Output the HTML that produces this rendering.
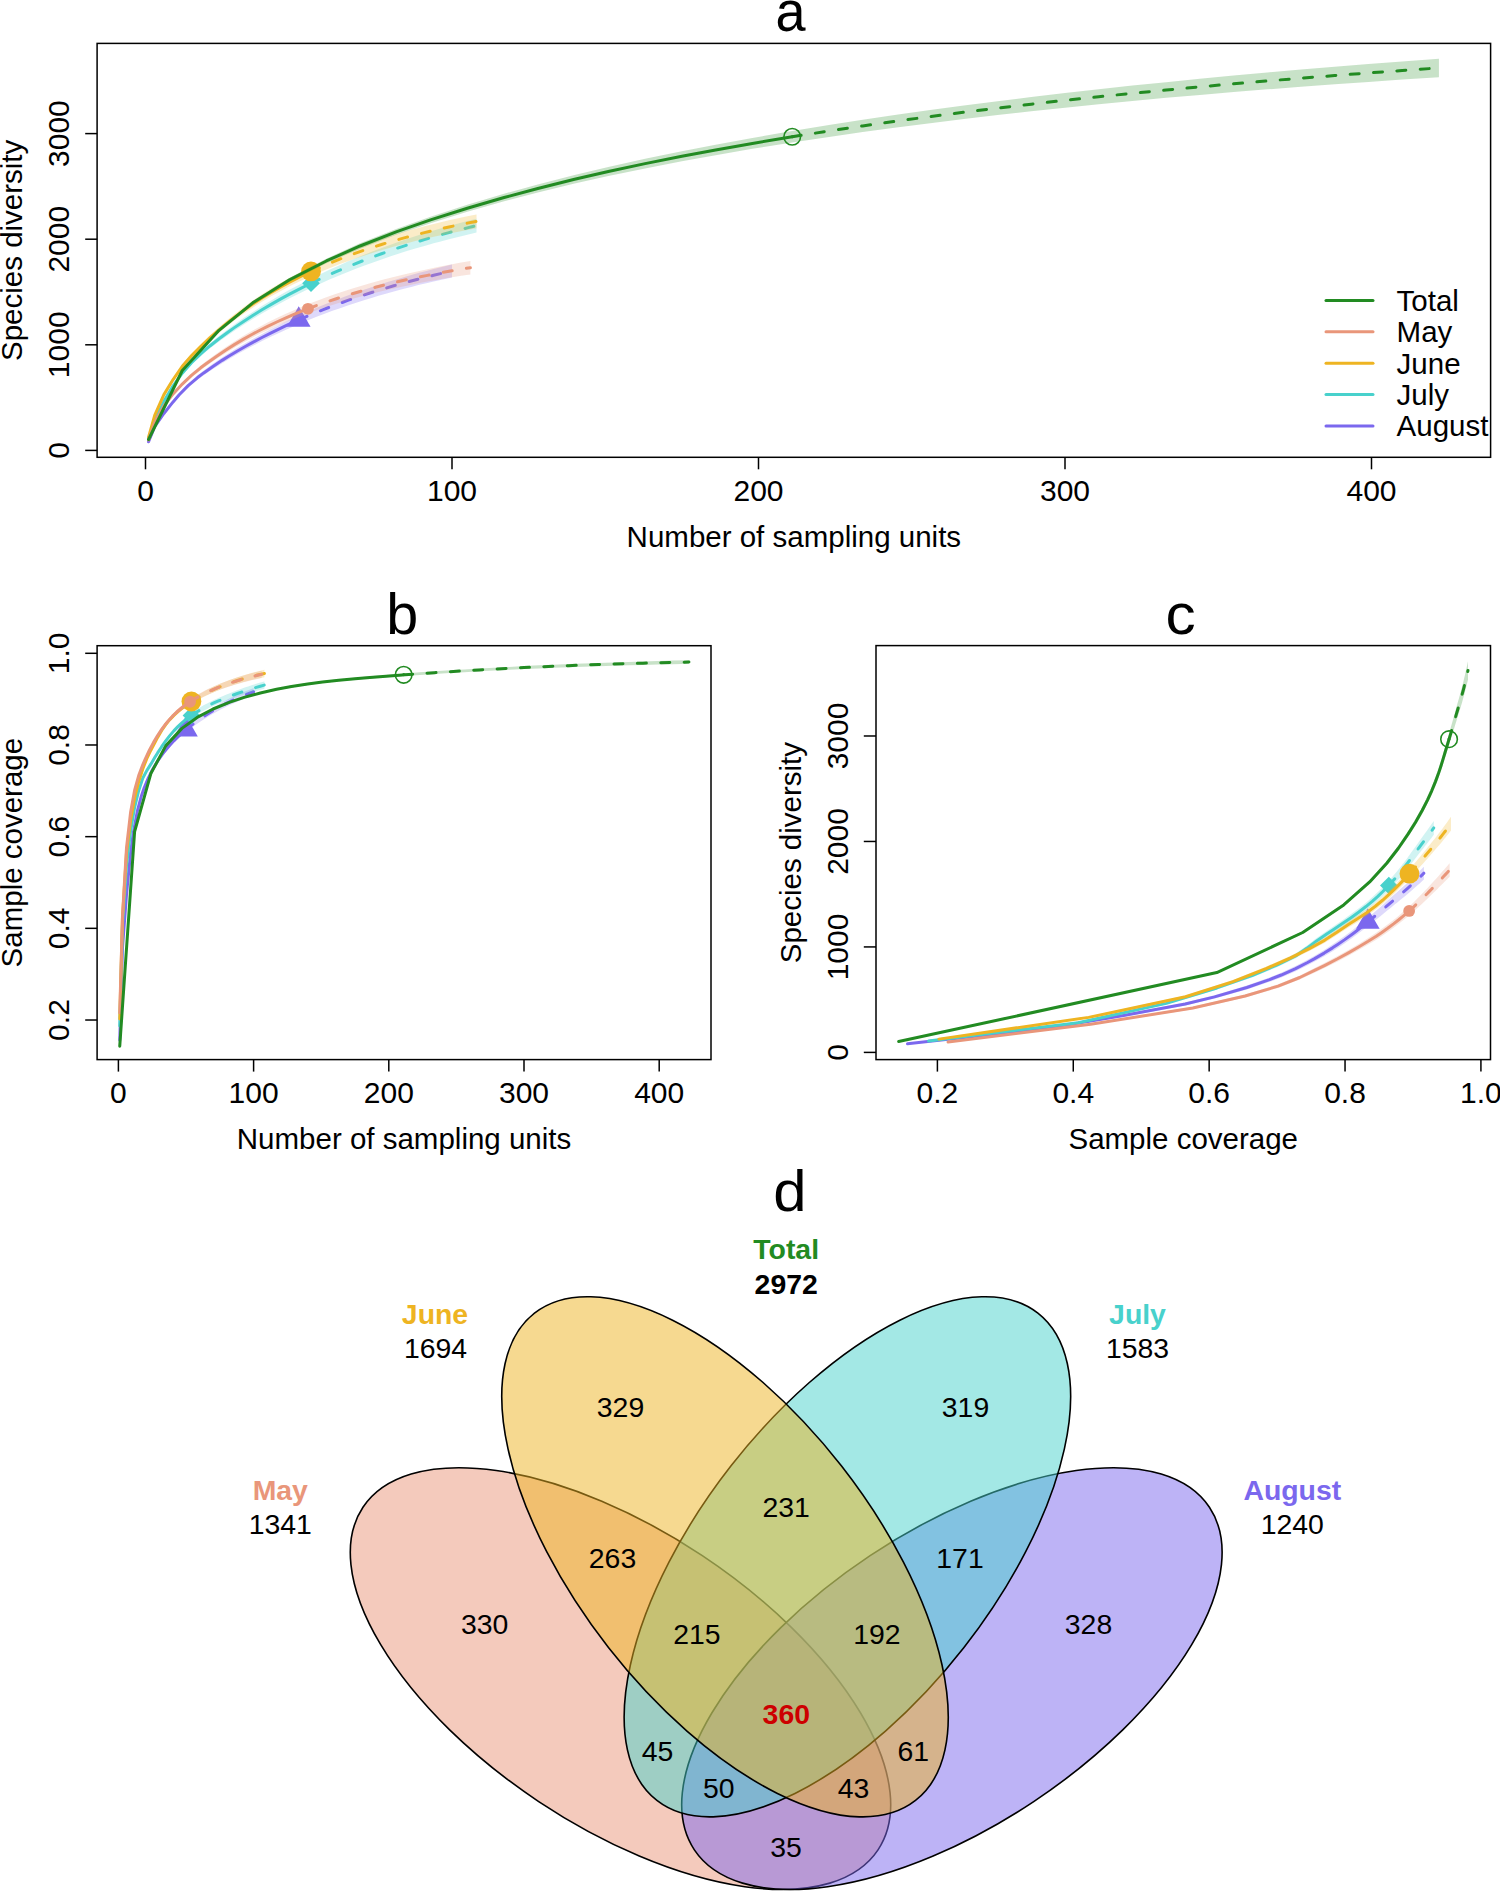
<!DOCTYPE html>
<html><head><meta charset="utf-8"><title>Figure</title>
<style>html,body{margin:0;padding:0;background:#fff;}svg{display:block;}text{font-family:"Liberation Sans", sans-serif;}</style>
</head><body>
<svg width="1500" height="1891" viewBox="0 0 1500 1891">
<rect x="0" y="0" width="1500" height="1891" fill="#fff"/>
<g id="pa">
<clipPath id="clipa"><rect x="97.10" y="43.40" width="1393.50" height="413.90"/></clipPath>
<g clip-path="url(#clipa)">
<polygon points="148.56,442.15 154.69,427.51 163.89,414.69 173.09,403.44 179.22,396.52 188.41,387.39 197.60,379.77 203.74,375.29 212.93,369.06 222.12,363.18 228.25,359.44 237.45,354.10 246.64,349.04 252.77,345.80 261.97,341.10 271.16,336.58 277.29,333.67 286.49,329.44 295.69,325.39 298.75,324.08 301.81,322.79 307.94,320.26 317.14,316.59 323.27,314.24 332.47,310.83 338.60,308.64 347.79,305.47 356.99,302.44 363.12,300.48 372.31,297.65 378.44,295.83 387.63,293.19 393.76,291.49 402.96,289.02 412.15,286.65 418.28,285.12 427.48,282.91 433.61,281.48 442.81,279.40 452.00,277.40 452.00,264.52 442.81,266.75 433.61,269.06 427.48,270.65 418.28,273.11 412.15,274.80 402.96,277.42 393.76,280.13 387.63,282.00 378.44,284.90 372.31,286.90 363.12,289.99 356.99,292.12 347.79,295.43 338.60,298.88 332.47,301.26 323.27,304.95 317.14,307.50 307.94,311.45 301.81,314.19 298.75,315.58 295.69,316.99 286.49,321.36 277.29,325.90 271.16,329.04 261.97,333.89 252.77,338.93 246.64,342.41 237.45,347.84 228.25,353.57 222.12,357.57 212.93,363.86 203.74,370.54 197.60,375.32 188.41,383.43 179.22,393.09 173.09,400.40 163.89,412.30 154.69,425.94 148.56,441.33" fill="#7B68EE" fill-opacity="0.25"/>
<polyline points="148.56,441.74 154.69,426.72 163.89,413.49 173.09,401.92 179.22,394.81 188.41,385.41 197.60,377.55 203.74,372.92 212.93,366.46 222.12,360.37 228.25,356.50 237.45,350.97 246.64,345.73 252.77,342.37 261.97,337.49 271.16,332.81 277.29,329.79 286.49,325.40 295.69,321.19 298.75,319.83" fill="none" stroke="#7B68EE" stroke-width="3" stroke-linejoin="round" stroke-linecap="round"/>
<polyline points="298.75,319.83 301.81,318.49 307.94,315.86 317.14,312.05 323.27,309.59 332.47,306.05 338.60,303.76 347.79,300.45 356.99,297.28 363.12,295.24 372.31,292.27 378.44,290.36 387.63,287.60 393.76,285.81 402.96,283.22 412.15,280.73 418.28,279.12 427.48,276.78 433.61,275.27 442.81,273.07 452.00,270.96" fill="none" stroke="#7B68EE" stroke-width="3" stroke-linejoin="round" stroke-linecap="round" stroke-dasharray="9 14.4"/>
<polygon points="298.75,306.23 310.55,326.63 286.95,326.63" fill="#7B68EE"/>
<polygon points="148.56,439.52 154.69,421.45 163.89,402.56 173.09,387.44 182.28,375.05 191.47,364.83 200.67,356.19 209.87,348.59 219.06,341.58 228.25,334.98 234.38,330.78 243.58,324.77 252.77,319.04 261.97,313.54 271.16,308.25 280.36,303.18 289.56,298.34 298.75,293.70 307.94,289.27 311.01,287.84 314.07,286.42 320.20,283.65 329.40,279.61 338.60,275.73 347.79,271.99 353.92,269.57 363.12,266.05 372.31,262.66 381.50,259.41 390.70,256.28 396.83,254.27 406.02,251.36 415.22,248.57 424.42,245.89 433.61,243.32 439.74,241.67 448.94,239.26 458.13,236.95 467.32,234.72 476.52,232.58 476.52,218.64 467.32,221.02 458.13,223.48 448.94,226.03 439.74,228.68 433.61,230.50 424.42,233.31 415.22,236.24 406.02,239.29 396.83,242.46 390.70,244.64 381.50,248.03 372.31,251.55 363.12,255.21 353.92,259.01 347.79,261.62 338.60,265.65 329.40,269.82 320.20,274.15 314.07,277.12 311.01,278.64 307.94,280.18 298.75,284.92 289.56,289.87 280.36,295.05 271.16,300.46 261.97,306.09 252.77,311.95 243.58,318.05 234.38,324.45 228.25,328.91 219.06,335.93 209.87,343.37 200.67,351.43 191.47,360.56 182.28,371.32 173.09,384.30 163.89,400.10 154.69,419.82 148.56,438.68" fill="#48D1CC" fill-opacity="0.25"/>
<polyline points="148.56,439.10 154.69,420.63 163.89,401.33 173.09,385.87 182.28,373.18 191.47,362.69 200.67,353.81 209.87,345.98 219.06,338.75 228.25,331.94 234.38,327.61 243.58,321.41 252.77,315.49 261.97,309.82 271.16,304.35 280.36,299.12 289.56,294.10 298.75,289.31 307.94,284.73 311.01,283.24" fill="none" stroke="#48D1CC" stroke-width="3" stroke-linejoin="round" stroke-linecap="round"/>
<polyline points="311.01,283.24 314.07,281.77 320.20,278.90 329.40,274.72 338.60,270.69 347.79,266.80 353.92,264.29 363.12,260.63 372.31,257.11 381.50,253.72 390.70,250.46 396.83,248.36 406.02,245.32 415.22,242.40 424.42,239.60 433.61,236.91 439.74,235.17 448.94,232.65 458.13,230.22 467.32,227.87 476.52,225.61" fill="none" stroke="#48D1CC" stroke-width="3" stroke-linejoin="round" stroke-linecap="round" stroke-dasharray="9 14.4"/>
<polygon points="302.21,283.24 311.01,274.44 319.81,283.24 311.01,292.04" fill="#48D1CC"/>
<polygon points="148.56,437.51 154.69,416.15 163.89,395.86 173.09,381.15 182.28,368.15 191.47,357.86 200.67,348.96 209.87,340.56 219.06,332.64 228.25,325.22 234.38,320.53 243.58,313.87 252.77,307.64 261.97,301.81 271.16,296.36 280.36,291.22 289.56,286.37 298.75,281.78 307.94,277.45 311.01,276.06 314.07,274.69 320.20,272.03 329.40,268.22 338.60,264.62 347.79,261.20 353.92,259.03 363.12,255.92 372.31,252.97 381.50,250.18 390.70,247.53 396.83,245.84 406.02,243.42 415.22,241.12 424.42,238.93 433.61,236.84 439.74,235.51 448.94,233.58 458.13,231.75 467.32,230.00 476.52,228.33 476.52,214.39 467.32,216.29 458.13,218.28 448.94,220.35 439.74,222.52 433.61,224.02 424.42,226.35 415.22,228.79 406.02,231.35 396.83,234.03 390.70,235.89 381.50,238.80 372.31,241.86 363.12,245.08 353.92,248.47 347.79,250.83 338.60,254.53 329.40,258.43 320.20,262.53 314.07,265.39 311.01,266.86 307.94,268.36 298.75,273.00 289.56,277.91 280.36,283.09 271.16,288.56 261.97,294.37 252.77,300.55 243.58,307.15 234.38,314.20 228.25,319.15 219.06,326.99 209.87,335.34 200.67,344.20 191.47,353.60 182.28,364.42 173.09,378.02 163.89,393.40 154.69,414.52 148.56,436.67" fill="#EEB422" fill-opacity="0.25"/>
<polyline points="148.56,437.09 154.69,415.33 163.89,394.63 173.09,379.58 182.28,366.28 191.47,355.73 200.67,346.58 209.87,337.95 219.06,329.81 228.25,322.18 234.38,317.36 243.58,310.51 252.77,304.09 261.97,298.09 271.16,292.46 280.36,287.15 289.56,282.14 298.75,277.39 307.94,272.90 311.01,271.46" fill="none" stroke="#EEB422" stroke-width="3" stroke-linejoin="round" stroke-linecap="round"/>
<polyline points="311.01,271.46 314.07,270.04 320.20,267.28 329.40,263.32 338.60,259.57 347.79,256.02 353.92,253.75 363.12,250.50 372.31,247.41 381.50,244.49 390.70,241.71 396.83,239.94 406.02,237.38 415.22,234.95 424.42,232.64 433.61,230.43 439.74,229.01 448.94,226.97 458.13,225.02 467.32,223.15 476.52,221.36" fill="none" stroke="#EEB422" stroke-width="3" stroke-linejoin="round" stroke-linecap="round" stroke-dasharray="9 14.4"/>
<circle cx="311.01" cy="271.46" r="9.9" fill="#EEB422"/>
<polygon points="148.56,440.36 154.69,423.08 163.89,407.13 173.09,395.44 182.28,385.88 191.47,377.49 200.67,370.15 206.80,365.68 216.00,359.36 225.19,353.38 234.38,347.74 243.58,342.45 252.77,337.50 258.90,334.37 268.10,329.89 277.29,325.66 286.49,321.67 295.69,317.92 304.88,314.38 307.94,313.24 311.01,312.13 317.14,309.96 326.34,306.86 335.53,303.91 341.66,302.03 350.86,299.32 360.05,296.76 369.25,294.32 375.38,292.77 384.57,290.54 393.76,288.43 402.96,286.43 409.09,285.15 418.28,283.31 427.48,281.56 436.68,279.90 442.81,278.83 452.00,277.29 461.19,275.82 470.39,274.41 470.39,260.89 461.19,262.53 452.00,264.24 442.81,266.02 436.68,267.24 427.48,269.15 418.28,271.14 409.09,273.23 402.96,274.67 393.76,276.93 384.57,279.30 375.38,281.79 369.25,283.52 360.05,286.22 350.86,289.06 341.66,292.04 335.53,294.11 326.34,297.34 317.14,300.75 311.01,303.11 307.94,304.33 304.88,305.56 295.69,309.41 286.49,313.48 277.29,317.79 268.10,322.35 258.90,327.18 252.77,330.55 243.58,335.86 234.38,341.53 225.19,347.56 216.00,353.96 206.80,360.71 200.67,365.48 191.47,373.31 182.28,382.22 173.09,392.36 163.89,404.72 154.69,421.49 148.56,439.53" fill="#E9967A" fill-opacity="0.25"/>
<polyline points="148.56,439.95 154.69,422.29 163.89,405.93 173.09,393.90 182.28,384.05 191.47,375.40 200.67,367.82 206.80,363.19 216.00,356.66 225.19,350.47 234.38,344.63 243.58,339.16 252.77,334.03 258.90,330.77 268.10,326.12 277.29,321.73 286.49,317.58 295.69,313.67 304.88,309.97 307.94,308.78" fill="none" stroke="#E9967A" stroke-width="3" stroke-linejoin="round" stroke-linecap="round"/>
<polyline points="307.94,308.78 311.01,307.62 317.14,305.35 326.34,302.10 335.53,299.01 341.66,297.03 350.86,294.19 360.05,291.49 369.25,288.92 375.38,287.28 384.57,284.92 393.76,282.68 402.96,280.55 409.09,279.19 418.28,277.23 427.48,275.36 436.68,273.57 442.81,272.42 452.00,270.77 461.19,269.18 470.39,267.65" fill="none" stroke="#E9967A" stroke-width="3" stroke-linejoin="round" stroke-linecap="round" stroke-dasharray="9 14.4"/>
<circle cx="307.94" cy="308.78" r="5.9" fill="#E9967A"/>
<polygon points="148.56,439.66 182.28,371.27 219.06,331.60 252.77,304.42 289.56,281.78 326.34,263.33 360.05,248.63 396.83,234.58 430.55,223.14 467.32,211.76 504.11,201.31 537.82,192.47 574.60,183.57 608.32,176.03 645.10,168.39 681.88,161.27 715.59,155.15 752.37,148.87 789.15,142.95 792.22,142.47 795.28,142.00 829.00,136.92 862.71,132.09 896.42,127.50 930.14,123.14 963.86,118.99 997.57,115.03 1031.28,111.27 1065.00,107.68 1098.72,104.25 1132.43,100.99 1166.14,97.87 1199.86,94.90 1233.58,92.06 1267.29,89.35 1301.00,86.75 1334.72,84.27 1368.43,81.89 1402.15,79.61 1438.93,77.23 1438.93,58.65 1402.15,61.40 1368.43,64.02 1334.72,66.75 1301.00,69.58 1267.29,72.53 1233.58,75.60 1199.86,78.79 1166.14,82.13 1132.43,85.61 1098.72,89.24 1065.00,93.04 1031.28,97.01 997.57,101.16 963.86,105.50 930.14,110.04 896.42,114.80 862.71,119.79 829.00,125.02 795.28,130.52 792.22,131.03 789.15,131.55 752.37,137.92 715.59,144.68 681.88,151.24 645.10,158.84 608.32,166.98 574.60,174.99 537.82,184.41 504.11,193.74 467.32,204.74 430.55,216.69 396.83,228.67 360.05,243.35 326.34,258.64 289.56,277.78 252.77,301.16 219.06,329.10 182.28,369.73 148.56,439.39" fill="#228B22" fill-opacity="0.25"/>
<polyline points="148.56,439.52 182.28,370.50 219.06,330.35 252.77,302.79 289.56,279.78 326.34,260.98 360.05,245.99 396.83,231.63 430.55,219.91 467.32,208.25 504.11,197.52 537.82,188.44 574.60,179.28 608.32,171.51 645.10,163.62 681.88,156.25 715.59,149.92 752.37,143.40 789.15,137.25 792.22,136.75" fill="none" stroke="#228B22" stroke-width="3" stroke-linejoin="round" stroke-linecap="round"/>
<polyline points="792.22,136.75 795.28,136.26 829.00,130.97 862.71,125.94 896.42,121.15 930.14,116.59 963.86,112.24 997.57,108.10 1031.28,104.14 1065.00,100.36 1098.72,96.75 1132.43,93.30 1166.14,90.00 1199.86,86.85 1233.58,83.83 1267.29,80.94 1301.00,78.17 1334.72,75.51 1368.43,72.96 1402.15,70.51 1438.93,67.94" fill="none" stroke="#228B22" stroke-width="3" stroke-linejoin="round" stroke-linecap="round" stroke-dasharray="9 14.4"/>
<circle cx="792.22" cy="136.75" r="8.3" fill="none" stroke="#228B22" stroke-width="1.6"/>
</g>
<rect x="97.10" y="43.40" width="1393.50" height="413.90" fill="none" stroke="#000" stroke-width="1.5"/>
<line x1="85.2" y1="450.40" x2="97.10" y2="450.40" stroke="#000" stroke-width="1.5"/>
<text x="69.30" y="450.40" font-size="30" text-anchor="middle" font-weight="normal" fill="#000" transform="rotate(-90 69.30 450.40)">0</text>
<line x1="85.2" y1="344.80" x2="97.10" y2="344.80" stroke="#000" stroke-width="1.5"/>
<text x="69.30" y="344.80" font-size="30" text-anchor="middle" font-weight="normal" fill="#000" transform="rotate(-90 69.30 344.80)">1000</text>
<line x1="85.2" y1="239.20" x2="97.10" y2="239.20" stroke="#000" stroke-width="1.5"/>
<text x="69.30" y="239.20" font-size="30" text-anchor="middle" font-weight="normal" fill="#000" transform="rotate(-90 69.30 239.20)">2000</text>
<line x1="85.2" y1="133.60" x2="97.10" y2="133.60" stroke="#000" stroke-width="1.5"/>
<text x="69.30" y="133.60" font-size="30" text-anchor="middle" font-weight="normal" fill="#000" transform="rotate(-90 69.30 133.60)">3000</text>
<line x1="145.50" y1="457.30" x2="145.50" y2="469.3" stroke="#000" stroke-width="1.5"/>
<text x="145.50" y="500.80" font-size="30" text-anchor="middle" font-weight="normal" fill="#000">0</text>
<line x1="452.00" y1="457.30" x2="452.00" y2="469.3" stroke="#000" stroke-width="1.5"/>
<text x="452.00" y="500.80" font-size="30" text-anchor="middle" font-weight="normal" fill="#000">100</text>
<line x1="758.50" y1="457.30" x2="758.50" y2="469.3" stroke="#000" stroke-width="1.5"/>
<text x="758.50" y="500.80" font-size="30" text-anchor="middle" font-weight="normal" fill="#000">200</text>
<line x1="1065.00" y1="457.30" x2="1065.00" y2="469.3" stroke="#000" stroke-width="1.5"/>
<text x="1065.00" y="500.80" font-size="30" text-anchor="middle" font-weight="normal" fill="#000">300</text>
<line x1="1371.50" y1="457.30" x2="1371.50" y2="469.3" stroke="#000" stroke-width="1.5"/>
<text x="1371.50" y="500.80" font-size="30" text-anchor="middle" font-weight="normal" fill="#000">400</text>
<text x="793.85" y="547.30" font-size="29.5" text-anchor="middle" font-weight="normal" fill="#000">Number of sampling units</text>
<text x="22.20" y="250.35" font-size="29.5" text-anchor="middle" font-weight="normal" fill="#000" transform="rotate(-90 22.20 250.35)">Species diversity</text>
<text x="0.00" y="0.00" font-size="57.5" text-anchor="middle" font-weight="normal" fill="#000" transform="translate(790.60 30.60) scale(0.940 1)">a</text>
<line x1="1326" y1="300.40" x2="1373" y2="300.40" stroke="#228B22" stroke-width="3" stroke-linecap="round"/>
<text x="1396.60" y="310.80" font-size="29.5" text-anchor="start" font-weight="normal" fill="#000">Total</text>
<line x1="1326" y1="331.80" x2="1373" y2="331.80" stroke="#E9967A" stroke-width="3" stroke-linecap="round"/>
<text x="1396.60" y="342.20" font-size="29.5" text-anchor="start" font-weight="normal" fill="#000">May</text>
<line x1="1326" y1="363.20" x2="1373" y2="363.20" stroke="#EEB422" stroke-width="3" stroke-linecap="round"/>
<text x="1396.60" y="373.60" font-size="29.5" text-anchor="start" font-weight="normal" fill="#000">June</text>
<line x1="1326" y1="394.60" x2="1373" y2="394.60" stroke="#48D1CC" stroke-width="3" stroke-linecap="round"/>
<text x="1396.60" y="405.00" font-size="29.5" text-anchor="start" font-weight="normal" fill="#000">July</text>
<line x1="1326" y1="426.00" x2="1373" y2="426.00" stroke="#7B68EE" stroke-width="3" stroke-linecap="round"/>
<text x="1396.60" y="436.40" font-size="29.5" text-anchor="start" font-weight="normal" fill="#000">August</text>
</g>
<g id="pb">
<clipPath id="clipb"><rect x="97.10" y="645.70" width="613.90" height="413.90"/></clipPath>
<g clip-path="url(#clipb)">
<polygon points="119.75,1040.42 122.46,948.52 126.51,895.12 130.57,853.67 133.27,833.98 137.33,812.36 141.38,797.19 144.09,789.38 148.14,779.81 152.20,771.84 154.90,767.13 158.96,760.83 163.02,755.28 165.72,751.91 169.78,747.24 173.83,742.97 176.54,740.32 180.59,736.60 184.65,733.14 186.00,732.04 187.35,730.96 190.06,728.87 194.11,725.89 196.82,723.98 200.87,721.24 203.58,719.48 207.63,716.93 211.69,714.49 214.39,712.91 218.45,710.65 221.15,709.20 225.21,707.13 227.91,705.81 231.97,703.92 236.02,702.14 238.73,701.00 242.78,699.38 245.49,698.34 249.54,696.85 253.60,695.44 253.60,688.10 249.54,689.65 245.49,691.27 242.78,692.40 238.73,694.16 236.02,695.39 231.97,697.31 227.91,699.34 225.21,700.76 221.15,702.98 218.45,704.53 214.39,706.94 211.69,708.61 207.63,711.21 203.58,713.92 200.87,715.79 196.82,718.69 194.11,720.71 190.06,723.86 187.35,726.06 186.00,727.20 184.65,728.36 180.59,732.00 176.54,735.90 173.83,738.68 169.78,743.14 165.72,748.00 163.02,751.51 158.96,757.27 154.90,763.79 152.20,768.65 148.14,776.85 144.09,786.67 141.38,794.66 137.33,810.10 133.27,832.03 130.57,851.94 126.51,893.76 122.46,947.62 119.75,1039.96" fill="#7B68EE" fill-opacity="0.25"/>
<polyline points="119.75,1040.19 122.46,948.07 126.51,894.44 130.57,852.80 133.27,833.00 137.33,811.23 141.38,795.92 144.09,788.02 148.14,778.33 152.20,770.25 154.90,765.46 158.96,759.05 163.02,753.40 165.72,749.96 169.78,745.19 173.83,740.83 176.54,738.11 180.59,734.30 184.65,730.75 186.00,729.62" fill="none" stroke="#7B68EE" stroke-width="3" stroke-linejoin="round" stroke-linecap="round"/>
<polyline points="186.00,729.62 187.35,728.51 190.06,726.37 194.11,723.30 196.82,721.34 200.87,718.51 203.58,716.70 207.63,714.07 211.69,711.55 214.39,709.93 218.45,707.59 221.15,706.09 225.21,703.94 227.91,702.57 231.97,700.62 236.02,698.76 238.73,697.58 242.78,695.89 245.49,694.81 249.54,693.25 253.60,691.77" fill="none" stroke="#7B68EE" stroke-width="3" stroke-linejoin="round" stroke-linecap="round" stroke-dasharray="9 14.4"/>
<polygon points="186.00,716.02 197.80,736.42 174.20,736.42" fill="#7B68EE"/>
<polygon points="119.75,1026.20 122.46,925.36 126.51,866.22 130.57,832.26 134.62,808.31 138.68,791.78 142.74,779.56 146.79,771.99 150.85,765.65 154.90,758.93 157.61,754.59 161.66,748.48 165.72,742.80 169.78,737.59 173.83,732.91 177.89,728.76 181.94,725.08 186.00,721.78 190.06,718.80 191.41,717.86 192.76,716.96 195.46,715.24 199.52,712.85 203.58,710.65 207.63,708.63 210.34,707.36 214.39,705.56 218.45,703.85 222.50,702.22 226.56,700.66 229.26,699.65 233.32,698.18 237.38,696.77 241.43,695.42 245.49,694.12 248.19,693.28 252.25,692.08 256.30,690.92 260.36,689.81 264.42,688.75 264.42,681.42 260.36,682.60 256.30,683.83 252.25,685.11 248.19,686.45 245.49,687.37 241.43,688.80 237.38,690.29 233.32,691.83 229.26,693.43 226.56,694.53 222.50,696.23 218.45,698.01 214.39,699.86 210.34,701.81 207.63,703.17 203.58,705.35 199.52,707.69 195.46,710.24 192.76,712.07 191.41,713.03 190.06,714.01 186.00,717.16 181.94,720.63 177.89,724.48 173.83,728.81 169.78,733.67 165.72,739.07 161.66,744.94 157.61,751.26 154.90,755.74 150.85,762.68 146.79,769.24 142.74,777.06 138.68,789.54 134.62,806.35 130.57,830.61 126.51,864.93 122.46,924.51 119.75,1025.76" fill="#48D1CC" fill-opacity="0.25"/>
<polyline points="119.75,1025.98 122.46,924.93 126.51,865.58 130.57,831.44 134.62,807.33 138.68,790.66 142.74,778.31 146.79,770.61 150.85,764.17 154.90,757.33 157.61,752.93 161.66,746.71 165.72,740.93 169.78,735.63 173.83,730.86 177.89,726.62 181.94,722.85 186.00,719.47 190.06,716.40 191.41,715.45" fill="none" stroke="#48D1CC" stroke-width="3" stroke-linejoin="round" stroke-linecap="round"/>
<polyline points="191.41,715.45 192.76,714.52 195.46,712.74 199.52,710.27 203.58,708.00 207.63,705.90 210.34,704.58 214.39,702.71 218.45,700.93 222.50,699.23 226.56,697.59 229.26,696.54 233.32,695.01 237.38,693.53 241.43,692.11 245.49,690.75 248.19,689.87 252.25,688.59 256.30,687.37 260.36,686.20 264.42,685.08" fill="none" stroke="#48D1CC" stroke-width="3" stroke-linejoin="round" stroke-linecap="round" stroke-dasharray="9 14.4"/>
<polygon points="182.61,715.45 191.41,706.65 200.21,715.45 191.41,724.25" fill="#48D1CC"/>
<polygon points="119.75,1019.22 122.46,918.43 126.51,853.26 130.57,821.41 134.62,798.92 138.68,782.84 142.74,770.26 146.79,759.97 150.85,751.70 154.90,744.06 157.61,739.07 161.66,732.18 165.72,726.41 169.78,721.62 173.83,717.50 177.89,713.84 181.94,710.54 186.00,707.54 190.06,704.79 191.41,703.92 192.76,703.08 195.46,701.45 199.52,699.16 203.58,697.03 207.63,695.04 210.34,693.79 214.39,692.00 218.45,690.32 222.50,688.74 226.56,687.26 229.26,686.33 233.32,685.00 237.38,683.75 241.43,682.58 245.49,681.48 248.19,680.79 252.25,679.79 256.30,678.86 260.36,677.97 264.42,677.14 264.42,669.80 260.36,670.76 256.30,671.77 252.25,672.83 248.19,673.95 245.49,674.74 241.43,675.97 237.38,677.27 233.32,678.65 229.26,680.11 226.56,681.14 222.50,682.75 218.45,684.47 214.39,686.30 210.34,688.23 207.63,689.59 203.58,691.73 199.52,694.01 195.46,696.45 192.76,698.18 191.41,699.08 190.06,700.00 186.00,702.91 181.94,706.08 177.89,709.56 173.83,713.40 169.78,717.70 165.72,722.68 161.66,728.64 157.61,735.73 154.90,740.87 150.85,748.72 146.79,757.22 142.74,767.76 138.68,780.60 134.62,796.96 130.57,819.76 126.51,851.96 122.46,917.57 119.75,1018.78" fill="#EEB422" fill-opacity="0.25"/>
<polyline points="119.75,1019.00 122.46,918.00 126.51,852.61 130.57,820.59 134.62,797.94 138.68,781.72 142.74,769.01 146.79,758.60 150.85,750.21 154.90,742.46 157.61,737.40 161.66,730.41 165.72,724.55 169.78,719.66 173.83,715.45 177.89,711.70 181.94,708.31 186.00,705.22 190.06,702.39 191.41,701.50" fill="none" stroke="#EEB422" stroke-width="3" stroke-linejoin="round" stroke-linecap="round"/>
<polyline points="191.41,701.50 192.76,700.63 195.46,698.95 199.52,696.59 203.58,694.38 207.63,692.31 210.34,691.01 214.39,689.15 218.45,687.40 222.50,685.75 226.56,684.20 229.26,683.22 233.32,681.82 237.38,680.51 241.43,679.27 245.49,678.11 248.19,677.37 252.25,676.31 256.30,675.31 260.36,674.37 264.42,673.47" fill="none" stroke="#EEB422" stroke-width="3" stroke-linejoin="round" stroke-linecap="round" stroke-dasharray="9 14.4"/>
<circle cx="191.41" cy="701.50" r="9.9" fill="#EEB422"/>
<polygon points="119.75,1013.07 122.46,917.05 126.51,848.31 130.57,813.21 134.62,791.14 138.68,776.66 142.74,766.12 145.44,759.89 149.50,751.46 153.55,743.96 157.61,737.21 161.66,731.17 165.72,725.81 168.42,722.60 172.48,718.24 176.54,714.38 180.59,710.94 184.65,707.84 188.70,705.04 190.06,704.16 191.41,703.31 194.11,701.68 198.17,699.42 202.22,697.33 204.93,696.03 208.98,694.19 213.04,692.47 217.10,690.85 219.80,689.83 223.86,688.36 227.91,686.97 231.97,685.67 234.67,684.83 238.73,683.64 242.78,682.52 246.84,681.46 249.54,680.79 253.60,679.82 257.66,678.92 261.71,678.06 261.71,670.72 257.66,671.71 253.60,672.74 249.54,673.83 246.84,674.59 242.78,675.78 238.73,677.04 234.67,678.36 231.97,679.29 227.91,680.73 223.86,682.26 219.80,683.87 217.10,684.99 213.04,686.75 208.98,688.62 204.93,690.61 202.22,692.01 198.17,694.26 194.11,696.68 191.41,698.42 190.06,699.32 188.70,700.25 184.65,703.23 180.59,706.50 176.54,710.12 172.48,714.16 168.42,718.70 165.72,722.04 161.66,727.59 157.61,733.84 153.55,740.81 149.50,748.53 145.44,757.19 142.74,763.59 138.68,774.39 134.62,789.15 130.57,811.54 126.51,847.00 122.46,916.19 119.75,1012.62" fill="#E9967A" fill-opacity="0.25"/>
<polyline points="119.75,1012.84 122.46,916.62 126.51,847.66 130.57,812.38 134.62,790.15 138.68,775.53 142.74,764.86 145.44,758.54 149.50,749.99 153.55,742.38 157.61,735.53 161.66,729.38 165.72,723.92 168.42,720.65 172.48,716.20 176.54,712.25 180.59,708.72 184.65,705.53 188.70,702.65 190.06,701.74" fill="none" stroke="#E9967A" stroke-width="3" stroke-linejoin="round" stroke-linecap="round"/>
<polyline points="190.06,701.74 191.41,700.86 194.11,699.18 198.17,696.84 202.22,694.67 204.93,693.32 208.98,691.40 213.04,689.61 217.10,687.92 219.80,686.85 223.86,685.31 227.91,683.85 231.97,682.48 234.67,681.60 238.73,680.34 242.78,679.15 246.84,678.02 249.54,677.31 253.60,676.28 257.66,675.31 261.71,674.39" fill="none" stroke="#E9967A" stroke-width="3" stroke-linejoin="round" stroke-linecap="round" stroke-dasharray="9 14.4"/>
<circle cx="190.06" cy="701.74" r="5.9" fill="#E9967A"/>
<polygon points="119.75,1046.20 134.62,831.70 150.85,773.88 165.72,746.27 181.94,728.85 198.17,717.39 213.04,709.63 229.26,703.06 244.14,698.15 260.36,693.73 276.58,690.13 291.46,687.39 307.68,684.91 322.55,683.02 338.78,681.30 355.00,679.83 369.87,678.58 386.10,677.30 402.32,676.09 403.67,676.00 405.02,675.90 419.90,674.88 434.77,673.92 449.64,673.01 464.51,672.16 479.38,671.34 494.26,670.56 509.13,669.81 524.00,669.09 538.87,668.42 553.74,667.79 568.62,667.22 583.49,666.69 598.36,666.20 613.23,665.75 628.10,665.33 642.98,664.93 657.85,664.56 672.72,664.21 688.94,663.85 688.94,660.18 672.72,660.60 657.85,661.01 642.98,661.45 628.10,661.90 613.23,662.38 598.36,662.90 583.49,663.45 568.62,664.04 553.74,664.68 538.87,665.36 524.00,666.10 509.13,666.89 494.26,667.71 479.38,668.56 464.51,669.44 449.64,670.37 434.77,671.34 419.90,672.37 405.02,673.47 403.67,673.58 402.32,673.68 386.10,674.97 369.87,676.34 355.00,677.66 338.78,679.23 322.55,681.04 307.68,683.02 291.46,685.60 276.58,688.43 260.36,692.14 244.14,696.67 229.26,701.69 213.04,708.38 198.17,716.27 181.94,727.87 165.72,745.45 150.85,773.22 134.62,831.27 119.75,1046.10" fill="#228B22" fill-opacity="0.25"/>
<polyline points="119.75,1046.15 134.62,831.49 150.85,773.55 165.72,745.86 181.94,728.36 198.17,716.83 213.04,709.01 229.26,702.37 244.14,697.41 260.36,692.94 276.58,689.28 291.46,686.50 307.68,683.96 322.55,682.03 338.78,680.27 355.00,678.75 369.87,677.46 386.10,676.13 402.32,674.89 403.67,674.79" fill="none" stroke="#228B22" stroke-width="3" stroke-linejoin="round" stroke-linecap="round"/>
<polyline points="403.67,674.79 405.02,674.69 419.90,673.63 434.77,672.63 449.64,671.69 464.51,670.80 479.38,669.95 494.26,669.13 509.13,668.35 524.00,667.60 538.87,666.89 553.74,666.24 568.62,665.63 583.49,665.07 598.36,664.55 613.23,664.07 628.10,663.61 642.98,663.19 657.85,662.79 672.72,662.41 688.94,662.01" fill="none" stroke="#228B22" stroke-width="3" stroke-linejoin="round" stroke-linecap="round" stroke-dasharray="9 14.4"/>
<circle cx="403.67" cy="674.79" r="8.3" fill="none" stroke="#228B22" stroke-width="1.6"/>
</g>
<rect x="97.10" y="645.70" width="613.90" height="413.90" fill="none" stroke="#000" stroke-width="1.5"/>
<line x1="85.2" y1="1020.02" x2="97.10" y2="1020.02" stroke="#000" stroke-width="1.5"/>
<text x="69.30" y="1020.02" font-size="30" text-anchor="middle" font-weight="normal" fill="#000" transform="rotate(-90 69.30 1020.02)">0.2</text>
<line x1="85.2" y1="928.34" x2="97.10" y2="928.34" stroke="#000" stroke-width="1.5"/>
<text x="69.30" y="928.34" font-size="30" text-anchor="middle" font-weight="normal" fill="#000" transform="rotate(-90 69.30 928.34)">0.4</text>
<line x1="85.2" y1="836.66" x2="97.10" y2="836.66" stroke="#000" stroke-width="1.5"/>
<text x="69.30" y="836.66" font-size="30" text-anchor="middle" font-weight="normal" fill="#000" transform="rotate(-90 69.30 836.66)">0.6</text>
<line x1="85.2" y1="744.98" x2="97.10" y2="744.98" stroke="#000" stroke-width="1.5"/>
<text x="69.30" y="744.98" font-size="30" text-anchor="middle" font-weight="normal" fill="#000" transform="rotate(-90 69.30 744.98)">0.8</text>
<line x1="85.2" y1="653.30" x2="97.10" y2="653.30" stroke="#000" stroke-width="1.5"/>
<text x="69.30" y="653.30" font-size="30" text-anchor="middle" font-weight="normal" fill="#000" transform="rotate(-90 69.30 653.30)">1.0</text>
<line x1="118.40" y1="1059.60" x2="118.40" y2="1071.6" stroke="#000" stroke-width="1.5"/>
<text x="118.40" y="1102.80" font-size="30" text-anchor="middle" font-weight="normal" fill="#000">0</text>
<line x1="253.60" y1="1059.60" x2="253.60" y2="1071.6" stroke="#000" stroke-width="1.5"/>
<text x="253.60" y="1102.80" font-size="30" text-anchor="middle" font-weight="normal" fill="#000">100</text>
<line x1="388.80" y1="1059.60" x2="388.80" y2="1071.6" stroke="#000" stroke-width="1.5"/>
<text x="388.80" y="1102.80" font-size="30" text-anchor="middle" font-weight="normal" fill="#000">200</text>
<line x1="524.00" y1="1059.60" x2="524.00" y2="1071.6" stroke="#000" stroke-width="1.5"/>
<text x="524.00" y="1102.80" font-size="30" text-anchor="middle" font-weight="normal" fill="#000">300</text>
<line x1="659.20" y1="1059.60" x2="659.20" y2="1071.6" stroke="#000" stroke-width="1.5"/>
<text x="659.20" y="1102.80" font-size="30" text-anchor="middle" font-weight="normal" fill="#000">400</text>
<text x="404.05" y="1149.30" font-size="29.5" text-anchor="middle" font-weight="normal" fill="#000">Number of sampling units</text>
<text x="22.20" y="852.65" font-size="29.5" text-anchor="middle" font-weight="normal" fill="#000" transform="rotate(-90 22.20 852.65)">Sample coverage</text>
<text x="402.30" y="633.70" font-size="57.5" text-anchor="middle" font-weight="normal" fill="#000">b</text>
</g>
<g id="pc">
<clipPath id="clipc"><rect x="876.00" y="645.60" width="614.50" height="414.00"/></clipPath>
<g clip-path="url(#clipc)">
<polygon points="907.51,1044.16 1044.04,1029.54 1123.53,1016.73 1185.23,1005.49 1214.58,998.59 1246.85,989.47 1269.53,981.86 1281.24,977.39 1295.62,971.16 1307.59,965.28 1314.68,961.55 1324.19,956.22 1332.56,951.16 1337.66,947.93 1344.73,943.23 1351.20,938.72 1355.22,935.81 1360.87,931.59 1366.13,927.55 1367.81,926.24 1369.45,924.94 1372.63,922.42 1377.18,918.76 1380.08,916.41 1384.26,913.01 1386.95,910.82 1390.85,907.65 1394.59,904.62 1396.99,902.67 1400.46,899.84 1402.68,898.02 1405.86,895.38 1407.89,893.68 1410.79,891.22 1413.54,888.85 1415.29,887.33 1417.80,885.11 1419.40,883.68 1421.71,881.61 1423.90,879.61 1423.90,866.75 1421.71,868.98 1419.40,871.29 1417.80,872.87 1415.29,875.33 1413.54,877.02 1410.79,879.63 1407.89,882.34 1405.86,884.21 1402.68,887.10 1400.46,889.10 1396.99,892.19 1394.59,894.32 1390.85,897.62 1386.95,901.07 1384.26,903.44 1380.08,907.13 1377.18,909.67 1372.63,913.63 1369.45,916.35 1367.81,917.75 1366.13,919.16 1360.87,923.52 1355.22,928.06 1351.20,931.19 1344.73,936.03 1337.66,941.07 1332.56,944.55 1324.19,949.97 1314.68,955.69 1307.59,959.68 1295.62,965.97 1281.24,972.64 1269.53,977.41 1246.85,985.51 1214.58,995.16 1185.23,1002.46 1123.53,1014.35 1044.04,1027.97 907.51,1043.35" fill="#7B68EE" fill-opacity="0.25"/>
<polyline points="907.51,1043.75 1044.04,1028.75 1123.53,1015.54 1185.23,1003.98 1214.58,996.88 1246.85,987.49 1269.53,979.63 1281.24,975.01 1295.62,968.56 1307.59,962.48 1314.68,958.62 1324.19,953.09 1332.56,947.86 1337.66,944.50 1344.73,939.63 1351.20,934.95 1355.22,931.93 1360.87,927.55 1366.13,923.35 1367.81,921.99" fill="none" stroke="#7B68EE" stroke-width="3" stroke-linejoin="round" stroke-linecap="round"/>
<polyline points="1367.81,921.99 1369.45,920.65 1372.63,918.02 1377.18,914.22 1380.08,911.77 1384.26,908.22 1386.95,905.94 1390.85,902.64 1394.59,899.47 1396.99,897.43 1400.46,894.47 1402.68,892.56 1405.86,889.80 1407.89,888.01 1410.79,885.42 1413.54,882.94 1415.29,881.33 1417.80,878.99 1419.40,877.49 1421.71,875.29 1423.90,873.18" fill="none" stroke="#7B68EE" stroke-width="3" stroke-linejoin="round" stroke-linecap="round" stroke-dasharray="9 14.4"/>
<polygon points="1367.81,908.39 1379.61,928.79 1356.01,928.79" fill="#7B68EE"/>
<polygon points="928.57,1041.53 1078.33,1023.48 1166.30,1004.62 1216.90,989.52 1252.63,977.14 1277.34,966.93 1295.65,958.30 1307.05,950.71 1316.61,943.71 1326.73,937.12 1333.26,932.93 1342.47,926.92 1351.04,921.20 1358.90,915.71 1365.97,910.43 1372.25,905.36 1377.84,900.52 1382.85,895.90 1387.39,891.47 1388.81,890.04 1390.19,888.62 1392.82,885.85 1396.48,881.82 1399.85,877.95 1402.96,874.21 1404.91,871.79 1407.69,868.28 1410.33,864.90 1412.85,861.64 1415.27,858.52 1416.83,856.51 1419.11,853.60 1421.29,850.82 1423.40,848.14 1425.42,845.58 1426.72,843.92 1428.61,841.52 1430.42,839.21 1432.15,836.99 1433.81,834.85 1433.81,820.93 1432.15,823.30 1430.42,825.76 1428.61,828.31 1426.72,830.95 1425.42,832.77 1423.40,835.58 1421.29,838.50 1419.11,841.55 1416.83,844.71 1415.27,846.90 1412.85,850.28 1410.33,853.80 1407.69,857.45 1404.91,861.25 1402.96,863.85 1399.85,867.87 1396.48,872.04 1392.82,876.36 1390.19,879.34 1388.81,880.85 1387.39,882.39 1382.85,887.13 1377.84,892.07 1372.25,897.24 1365.97,902.64 1358.90,908.27 1351.04,914.12 1342.47,920.21 1333.26,926.60 1326.73,931.06 1316.61,938.07 1307.05,945.50 1295.65,953.55 1277.34,962.67 1252.63,973.41 1216.90,986.38 1166.30,1002.16 1078.33,1021.86 928.57,1040.70" fill="#48D1CC" fill-opacity="0.25"/>
<polyline points="928.57,1041.11 1078.33,1022.67 1166.30,1003.39 1216.90,987.95 1252.63,975.28 1277.34,964.80 1295.65,955.93 1307.05,948.11 1316.61,940.89 1326.73,934.09 1333.26,929.77 1342.47,923.57 1351.04,917.66 1358.90,911.99 1365.97,906.53 1372.25,901.30 1377.84,896.30 1382.85,891.51 1387.39,886.93 1388.81,885.44" fill="none" stroke="#48D1CC" stroke-width="3" stroke-linejoin="round" stroke-linecap="round"/>
<polyline points="1388.81,885.44 1390.19,883.98 1392.82,881.11 1396.48,876.93 1399.85,872.91 1402.96,869.03 1404.91,866.52 1407.69,862.87 1410.33,859.35 1412.85,855.96 1415.27,852.71 1416.83,850.61 1419.11,847.57 1421.29,844.66 1423.40,841.86 1425.42,839.17 1426.72,837.44 1428.61,834.92 1430.42,832.49 1432.15,830.15 1433.81,827.89" fill="none" stroke="#48D1CC" stroke-width="3" stroke-linejoin="round" stroke-linecap="round" stroke-dasharray="9 14.4"/>
<polygon points="1380.01,885.44 1388.81,876.64 1397.61,885.44 1388.81,894.24" fill="#48D1CC"/>
<polygon points="938.91,1039.53 1088.60,1018.19 1185.52,997.93 1232.98,983.24 1266.55,970.25 1290.59,959.98 1309.43,951.08 1324.86,942.70 1337.29,934.79 1348.77,927.37 1356.28,922.69 1366.64,916.04 1375.33,909.81 1382.56,904.00 1388.81,898.55 1394.37,893.42 1399.39,888.57 1403.96,883.99 1408.16,879.66 1409.48,878.27 1410.77,876.91 1413.26,874.25 1416.76,870.45 1420.04,866.84 1423.10,863.44 1425.03,861.27 1427.79,858.16 1430.39,855.21 1432.83,852.42 1435.12,849.78 1436.58,848.10 1438.65,845.68 1440.59,843.38 1442.42,841.19 1444.15,839.11 1445.25,837.77 1446.81,835.85 1448.30,834.02 1449.70,832.27 1451.02,830.60 1451.02,816.68 1449.70,818.58 1448.30,820.57 1446.81,822.64 1445.25,824.80 1444.15,826.30 1442.42,828.63 1440.59,831.06 1438.65,833.62 1436.58,836.30 1435.12,838.15 1432.83,841.06 1430.39,844.12 1427.79,847.33 1425.03,850.72 1423.10,853.08 1420.04,856.77 1416.76,860.66 1413.26,864.76 1410.77,867.62 1409.48,869.09 1408.16,870.58 1403.96,875.22 1399.39,880.12 1394.37,885.29 1388.81,890.76 1382.56,896.56 1375.33,902.73 1366.64,909.33 1356.28,916.37 1348.77,921.31 1337.29,929.14 1324.86,937.48 1309.43,946.33 1290.59,955.72 1266.55,966.52 1232.98,980.10 1185.52,995.47 1088.60,1016.57 938.91,1038.69" fill="#EEB422" fill-opacity="0.25"/>
<polyline points="938.91,1039.11 1088.60,1017.38 1185.52,996.70 1232.98,981.67 1266.55,968.39 1290.59,957.85 1309.43,948.71 1324.86,940.09 1337.29,931.96 1348.77,924.34 1356.28,919.53 1366.64,912.69 1375.33,906.27 1382.56,900.28 1388.81,894.65 1394.37,889.35 1399.39,884.35 1403.96,879.61 1408.16,875.12 1409.48,873.68" fill="none" stroke="#EEB422" stroke-width="3" stroke-linejoin="round" stroke-linecap="round"/>
<polyline points="1409.48,873.68 1410.77,872.26 1413.26,869.51 1416.76,865.55 1420.04,861.81 1423.10,858.26 1425.03,855.99 1427.79,852.74 1430.39,849.66 1432.83,846.74 1435.12,843.97 1436.58,842.20 1438.65,839.65 1440.59,837.22 1442.42,834.91 1444.15,832.70 1445.25,831.29 1446.81,829.24 1448.30,827.29 1449.70,825.43 1451.02,823.64" fill="none" stroke="#EEB422" stroke-width="3" stroke-linejoin="round" stroke-linecap="round" stroke-dasharray="9 14.4"/>
<circle cx="1409.48" cy="873.68" r="9.9" fill="#EEB422"/>
<polygon points="948.04,1042.37 1090.65,1025.12 1192.86,1009.19 1245.15,997.51 1278.10,987.96 1299.77,979.58 1315.58,972.25 1324.94,967.78 1337.61,961.48 1348.89,955.50 1359.05,949.86 1368.16,944.59 1376.25,939.64 1381.11,936.51 1387.69,932.03 1393.55,927.81 1398.79,923.83 1403.50,920.08 1407.78,916.55 1409.13,915.41 1410.43,914.30 1412.92,912.14 1416.40,909.03 1419.60,906.09 1421.61,904.21 1424.45,901.51 1427.10,898.95 1429.61,896.52 1431.20,894.97 1433.48,892.74 1435.64,890.63 1437.68,888.63 1438.98,887.35 1440.84,885.52 1442.61,883.77 1444.27,882.11 1445.34,881.04 1446.86,879.50 1448.30,878.03 1449.66,876.63 1449.66,863.13 1448.30,864.76 1446.86,866.47 1445.34,868.24 1444.27,869.47 1442.61,871.37 1440.84,873.36 1438.98,875.45 1437.68,876.89 1435.64,879.14 1433.48,881.51 1431.20,884.00 1429.61,885.72 1427.10,888.42 1424.45,891.26 1421.61,894.24 1419.60,896.30 1416.40,899.53 1412.92,902.93 1410.43,905.29 1409.13,906.51 1407.78,907.74 1403.50,911.58 1398.79,915.65 1393.55,919.96 1387.69,924.51 1381.11,929.33 1376.25,932.70 1368.16,938.01 1359.05,943.66 1348.89,949.69 1337.61,956.08 1324.94,962.82 1315.58,967.59 1299.77,975.41 1278.10,984.31 1245.15,994.43 1192.86,1006.78 1090.65,1023.53 948.04,1041.55" fill="#E9967A" fill-opacity="0.25"/>
<polyline points="948.04,1041.96 1090.65,1024.32 1192.86,1007.98 1245.15,995.97 1278.10,986.13 1299.77,977.49 1315.58,969.92 1324.94,965.30 1337.61,958.78 1348.89,952.59 1359.05,946.76 1368.16,941.30 1376.25,936.17 1381.11,932.92 1387.69,928.27 1393.55,923.88 1398.79,919.74 1403.50,915.83 1407.78,912.14 1409.13,910.96" fill="none" stroke="#E9967A" stroke-width="3" stroke-linejoin="round" stroke-linecap="round"/>
<polyline points="1409.13,910.96 1410.43,909.80 1412.92,907.53 1416.40,904.28 1419.60,901.20 1421.61,899.22 1424.45,896.38 1427.10,893.68 1429.61,891.12 1431.20,889.48 1433.48,887.12 1435.64,884.89 1437.68,882.76 1438.98,881.40 1440.84,879.44 1442.61,877.57 1444.27,875.79 1445.34,874.64 1446.86,872.99 1448.30,871.40 1449.66,869.88" fill="none" stroke="#E9967A" stroke-width="3" stroke-linejoin="round" stroke-linecap="round" stroke-dasharray="9 14.4"/>
<circle cx="1409.13" cy="910.96" r="5.9" fill="#E9967A"/>
<polygon points="898.67,1041.67 1216.83,973.36 1302.70,933.74 1343.73,906.60 1369.67,883.99 1386.76,865.56 1398.36,850.88 1408.19,836.84 1415.54,825.42 1422.17,814.06 1427.60,803.62 1431.72,794.79 1435.47,785.90 1438.34,778.37 1440.95,770.74 1443.21,763.63 1445.11,757.52 1447.08,751.24 1448.93,745.33 1449.07,744.85 1449.22,744.38 1450.80,739.30 1452.27,734.48 1453.66,729.90 1454.98,725.54 1456.24,721.40 1457.45,717.45 1458.62,713.68 1459.73,710.10 1460.78,706.68 1461.75,703.42 1462.65,700.31 1463.48,697.34 1464.24,694.50 1464.96,691.79 1465.63,689.20 1466.26,686.72 1466.86,684.35 1467.42,682.07 1468.00,679.69 1468.00,661.13 1467.42,663.88 1466.86,666.50 1466.26,669.22 1465.63,672.05 1464.96,674.99 1464.24,678.06 1463.48,681.25 1462.65,684.58 1461.75,688.06 1460.78,691.69 1459.73,695.48 1458.62,699.44 1457.45,703.59 1456.24,707.92 1454.98,712.46 1453.66,717.22 1452.27,722.20 1450.80,727.42 1449.22,732.91 1449.07,733.42 1448.93,733.94 1447.08,740.31 1445.11,747.05 1443.21,753.60 1440.95,761.20 1438.34,769.33 1435.47,777.33 1431.72,786.73 1427.60,796.05 1422.17,807.05 1415.54,818.98 1408.19,830.95 1398.36,845.60 1386.76,860.87 1369.67,879.99 1343.73,903.35 1302.70,931.25 1216.83,971.83 898.67,1041.40" fill="#228B22" fill-opacity="0.25"/>
<polyline points="898.67,1041.54 1216.83,972.59 1302.70,932.49 1343.73,904.97 1369.67,881.99 1386.76,863.22 1398.36,848.24 1408.19,833.90 1415.54,822.20 1422.17,810.55 1427.60,799.84 1431.72,790.76 1435.47,781.62 1438.34,773.85 1440.95,765.97 1443.21,758.62 1445.11,752.29 1447.08,745.77 1448.93,739.63 1449.07,739.14" fill="none" stroke="#228B22" stroke-width="3" stroke-linejoin="round" stroke-linecap="round"/>
<polyline points="1449.07,739.14 1449.22,738.64 1450.80,733.36 1452.27,728.34 1453.66,723.56 1454.98,719.00 1456.24,714.66 1457.45,710.52 1458.62,706.56 1459.73,702.79 1460.78,699.18 1461.75,695.74 1462.65,692.45 1463.48,689.30 1464.24,686.28 1464.96,683.39 1465.63,680.63 1466.26,677.97 1466.86,675.42 1467.42,672.97 1468.00,670.41" fill="none" stroke="#228B22" stroke-width="3" stroke-linejoin="round" stroke-linecap="round" stroke-dasharray="9 14.4"/>
<circle cx="1449.07" cy="739.14" r="8.3" fill="none" stroke="#228B22" stroke-width="1.6"/>
</g>
<rect x="876.00" y="645.60" width="614.50" height="414.00" fill="none" stroke="#000" stroke-width="1.5"/>
<line x1="863.8" y1="1052.40" x2="876.00" y2="1052.40" stroke="#000" stroke-width="1.5"/>
<text x="847.90" y="1052.40" font-size="30" text-anchor="middle" font-weight="normal" fill="#000" transform="rotate(-90 847.90 1052.40)">0</text>
<line x1="863.8" y1="946.93" x2="876.00" y2="946.93" stroke="#000" stroke-width="1.5"/>
<text x="847.90" y="946.93" font-size="30" text-anchor="middle" font-weight="normal" fill="#000" transform="rotate(-90 847.90 946.93)">1000</text>
<line x1="863.8" y1="841.46" x2="876.00" y2="841.46" stroke="#000" stroke-width="1.5"/>
<text x="847.90" y="841.46" font-size="30" text-anchor="middle" font-weight="normal" fill="#000" transform="rotate(-90 847.90 841.46)">2000</text>
<line x1="863.8" y1="735.99" x2="876.00" y2="735.99" stroke="#000" stroke-width="1.5"/>
<text x="847.90" y="735.99" font-size="30" text-anchor="middle" font-weight="normal" fill="#000" transform="rotate(-90 847.90 735.99)">3000</text>
<line x1="937.40" y1="1059.60" x2="937.40" y2="1071.6" stroke="#000" stroke-width="1.5"/>
<text x="937.40" y="1102.80" font-size="30" text-anchor="middle" font-weight="normal" fill="#000">0.2</text>
<line x1="1073.28" y1="1059.60" x2="1073.28" y2="1071.6" stroke="#000" stroke-width="1.5"/>
<text x="1073.28" y="1102.80" font-size="30" text-anchor="middle" font-weight="normal" fill="#000">0.4</text>
<line x1="1209.16" y1="1059.60" x2="1209.16" y2="1071.6" stroke="#000" stroke-width="1.5"/>
<text x="1209.16" y="1102.80" font-size="30" text-anchor="middle" font-weight="normal" fill="#000">0.6</text>
<line x1="1345.04" y1="1059.60" x2="1345.04" y2="1071.6" stroke="#000" stroke-width="1.5"/>
<text x="1345.04" y="1102.80" font-size="30" text-anchor="middle" font-weight="normal" fill="#000">0.8</text>
<line x1="1480.92" y1="1059.60" x2="1480.92" y2="1071.6" stroke="#000" stroke-width="1.5"/>
<text x="1480.92" y="1102.80" font-size="30" text-anchor="middle" font-weight="normal" fill="#000">1.0</text>
<text x="1183.25" y="1149.30" font-size="29.5" text-anchor="middle" font-weight="normal" fill="#000">Sample coverage</text>
<text x="800.80" y="852.60" font-size="29.5" text-anchor="middle" font-weight="normal" fill="#000" transform="rotate(-90 800.80 852.60)">Species diversity</text>
<text x="0.00" y="0.00" font-size="57.5" text-anchor="middle" font-weight="normal" fill="#000" transform="translate(1180.70 633.70) scale(1.050 1)">c</text>
</g>
<g id="pd">
<ellipse cx="620.50" cy="1678.60" rx="309.30" ry="147.70" transform="rotate(33.63 620.50 1678.60)" fill="#E9967A" fill-opacity="0.5" stroke="#000" stroke-width="1.6"/>
<ellipse cx="951.90" cy="1678.60" rx="309.30" ry="147.70" transform="rotate(-33.63 951.90 1678.60)" fill="#7B68EE" fill-opacity="0.5" stroke="#000" stroke-width="1.6"/>
<ellipse cx="847.40" cy="1556.80" rx="309.30" ry="147.70" transform="rotate(-51.98 847.40 1556.80)" fill="#48D1CC" fill-opacity="0.5" stroke="#000" stroke-width="1.6"/>
<ellipse cx="725.00" cy="1556.80" rx="309.30" ry="147.70" transform="rotate(51.98 725.00 1556.80)" fill="#EEB422" fill-opacity="0.5" stroke="#000" stroke-width="1.6"/>
<text x="620.50" y="1417.00" font-size="28.4" text-anchor="middle" font-weight="normal" fill="#000">329</text>
<text x="965.50" y="1417.00" font-size="28.4" text-anchor="middle" font-weight="normal" fill="#000">319</text>
<text x="786.20" y="1516.80" font-size="28.4" text-anchor="middle" font-weight="normal" fill="#000">231</text>
<text x="612.50" y="1567.70" font-size="28.4" text-anchor="middle" font-weight="normal" fill="#000">263</text>
<text x="960.00" y="1567.70" font-size="28.4" text-anchor="middle" font-weight="normal" fill="#000">171</text>
<text x="484.70" y="1634.00" font-size="28.4" text-anchor="middle" font-weight="normal" fill="#000">330</text>
<text x="1088.50" y="1634.00" font-size="28.4" text-anchor="middle" font-weight="normal" fill="#000">328</text>
<text x="696.90" y="1644.00" font-size="28.4" text-anchor="middle" font-weight="normal" fill="#000">215</text>
<text x="876.90" y="1644.00" font-size="28.4" text-anchor="middle" font-weight="normal" fill="#000">192</text>
<text x="657.60" y="1761.30" font-size="28.4" text-anchor="middle" font-weight="normal" fill="#000">45</text>
<text x="913.30" y="1761.30" font-size="28.4" text-anchor="middle" font-weight="normal" fill="#000">61</text>
<text x="718.70" y="1797.90" font-size="28.4" text-anchor="middle" font-weight="normal" fill="#000">50</text>
<text x="853.50" y="1797.90" font-size="28.4" text-anchor="middle" font-weight="normal" fill="#000">43</text>
<text x="786.10" y="1857.30" font-size="28.4" text-anchor="middle" font-weight="normal" fill="#000">35</text>
<text x="786.30" y="1724.00" font-size="28.4" text-anchor="middle" font-weight="bold" fill="#CD0000">360</text>
<text x="786.20" y="1259.40" font-size="28.4" text-anchor="middle" font-weight="bold" fill="#228B22">Total</text>
<text x="786.20" y="1293.50" font-size="28.4" text-anchor="middle" font-weight="bold" fill="#000">2972</text>
<text x="435.00" y="1324.40" font-size="28.4" text-anchor="middle" font-weight="bold" fill="#EEB422">June</text>
<text x="435.50" y="1358.40" font-size="28.4" text-anchor="middle" font-weight="normal" fill="#000">1694</text>
<text x="1137.50" y="1324.40" font-size="28.4" text-anchor="middle" font-weight="bold" fill="#48D1CC">July</text>
<text x="1137.50" y="1358.40" font-size="28.4" text-anchor="middle" font-weight="normal" fill="#000">1583</text>
<text x="280.30" y="1499.80" font-size="28.4" text-anchor="middle" font-weight="bold" fill="#E9967A">May</text>
<text x="280.30" y="1533.70" font-size="28.4" text-anchor="middle" font-weight="normal" fill="#000">1341</text>
<text x="1292.30" y="1499.80" font-size="28.4" text-anchor="middle" font-weight="bold" fill="#7B68EE">August</text>
<text x="1292.30" y="1533.70" font-size="28.4" text-anchor="middle" font-weight="normal" fill="#000">1240</text>
<text x="0.00" y="0.00" font-size="57.5" text-anchor="middle" font-weight="normal" fill="#000" transform="translate(790.00 1211.20) scale(1.040 1)">d</text>
</g>
</svg>
</body></html>
